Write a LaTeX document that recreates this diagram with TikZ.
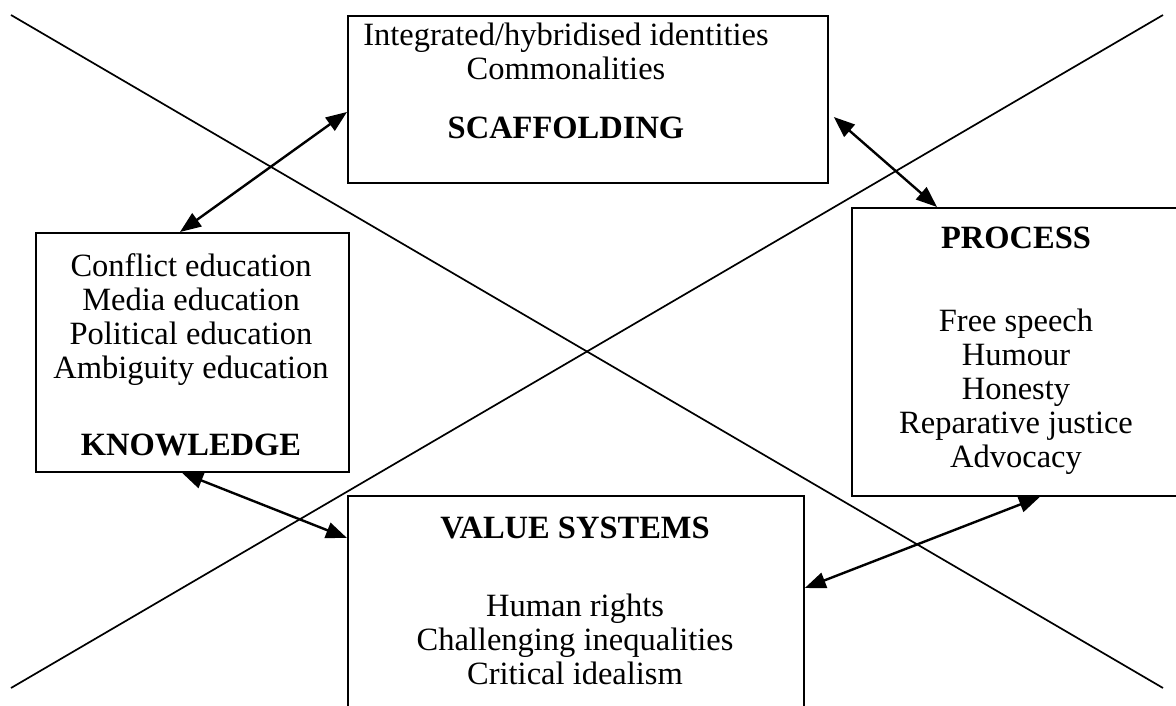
\documentclass[tikz,border=0pt]{standalone}
\usepackage{fontspec}
\setmainfont{Liberation Serif}
\usetikzlibrary{arrows.meta}
\begin{document}
\begin{tikzpicture}[x=1pt,y=-1pt,
  frame/.style={draw, line width=1.8pt, fill=white, inner sep=0pt, anchor=north west},
  txt/.style={anchor=base, inner sep=0pt, font=\fontsize{32.5}{34}\selectfont},
  head/.style={anchor=base, inner sep=0pt, font=\fontsize{32.5}{34}\selectfont\bfseries},
  link/.style={line width=2.4pt, {Triangle[length=21pt,width=16pt]}-{Triangle[length=21pt,width=16pt]}},
  cross/.style={line width=1.7pt}]
\path[use as bounding box] (0,0) rectangle (1176,706);
\begin{scope}
\clip (0,0) rectangle (1176,706);
% the two long diagonals
\coordinate (tl) at (11,15);
\coordinate (br) at (1163,688);
\coordinate (bl) at (11,688);
\coordinate (tr) at (1163,15);
\draw[cross] (tl) -- (br);
\draw[cross] (bl) -- (tr);
% the four frames
\node[frame, minimum width=480pt, minimum height=167pt] (scaf) at (347,15) {};
\node[frame, minimum width=313pt, minimum height=239pt] (know) at (35,232) {};
\node[frame, minimum width=340pt, minimum height=288pt] (proc) at (851,207) {};
\node[frame, minimum width=456pt, minimum height=240pt] (val) at (347,495) {};
% scaffolding
\node[txt] (s1) at (566,46) {Integrated/hybridised identities};
\node[txt] (s2) at (566,80) {Commonalities};
\node[head] (s3) at (566,139) {SCAFFOLDING};
% knowledge
\node[txt] (k1) at (191,276) {Conflict education};
\node[txt] (k2) at (191,310) {Media education};
\node[txt] (k3) at (191,344) {Political education};
\node[txt] (k4) at (191,378) {Ambiguity education};
\node[head] (k5) at (191,455) {KNOWLEDGE};
% process
\node[head] (p1) at (1016,248) {PROCESS};
\node[txt] (p2) at (1016,331) {Free speech};
\node[txt] (p3) at (1016,365) {Humour};
\node[txt] (p4) at (1016,399) {Honesty};
\node[txt] (p5) at (1016,433) {Reparative justice};
\node[txt] (p6) at (1016,467) {Advocacy};
% value systems
\node[head] (v1) at (575,538) {VALUE SYSTEMS};
\node[txt] (v2) at (575,616) {Human rights};
\node[txt] (v3) at (575,650) {Challenging inequalities};
\node[txt] (v4) at (575,684) {Critical idealism};
% double-headed links between neighbouring frames
\draw[link] ([xshift=145pt]know.north west) -- ([yshift=-97pt]scaf.north west);
\draw[link] ([xshift=5pt,yshift=-102pt]scaf.north east) -- ([xshift=86pt]proc.north west);
\draw[link] ([xshift=147pt]know.south west) -- ([yshift=-43pt]val.north west);
\draw[link] ([yshift=-93pt]val.north east) -- ([xshift=189pt]proc.south west);
\end{scope}
\end{tikzpicture}
\end{document}
